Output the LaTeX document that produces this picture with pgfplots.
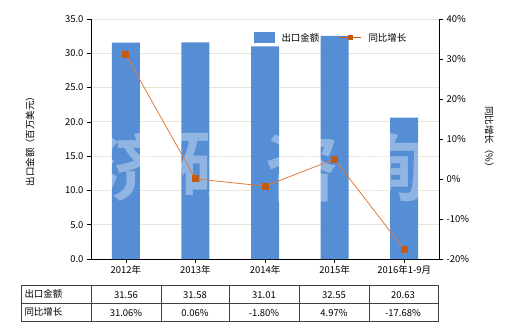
\documentclass[border=0pt]{standalone}
\usepackage{pgfplots}
\pgfplotsset{compat=1.18}
\usepackage{fontspec}
\setmainfont{Noto Sans CJK SC}
\newfontfamily\wmfont{Noto Sans CJK SC Bold}
\definecolor{barblue}{HTML}{558ED5}
\definecolor{lineor}{HTML}{E07B39}
\definecolor{markor}{HTML}{C55A11}
\definecolor{gridc}{HTML}{E6E6D8}
\definecolor{tabc}{HTML}{404040}
\begin{document}
\begin{tikzpicture}[x=1bp,y=1bp,font=\fontsize{9.5}{11}\selectfont]
\useasboundingbox (0,0) rectangle (520,330);
\begin{axis}[
  at={(91bp,71bp)}, anchor=south west,
  width=348bp, height=240bp, scale only axis,
  xmin=-0.5, xmax=4.5, ymin=0, ymax=35,
  xtick={0,1,2,3,4},
  xticklabels={2012年,2013年,2014年,2015年,2016年1-9月},
  ytick={0,5,...,35},
  yticklabel={\pgfmathprintnumber[fixed,fixed zerofill,precision=1]{\tick}},
  /pgf/number format/assume math mode=true,
  axis x line*=bottom, axis y line*=left,
  axis line style={black, line width=0.8pt},
  tick style={black, line width=0.6pt},
  tick align=outside, major tick length=4bp,
  ymajorgrids, grid style={gridc, line width=0.8pt},
  xticklabel style={yshift=1bp},
  ylabel={出口金额（百万美元）},
  ylabel style={at={(axis description cs:-0.175,0.5)}, anchor=center},
  clip=false,
]
\addplot[ybar, bar width=28bp, fill=barblue, draw=none] coordinates {(0,31.56) (1,31.58) (2,31.01) (3,32.55) (4,20.63)};
\end{axis}
% watermark
\foreach \c/\xx in {济/132,研/215,咨/302,询/390}{
  \node[text=white, opacity=0.35, font=\wmfont\fontsize{74}{74}\selectfont] at (\xx,163) {\c};
}
\begin{axis}[
  at={(91bp,71bp)}, anchor=south west,
  width=348bp, height=240bp, scale only axis,
  xmin=-0.5, xmax=4.5, ymin=-20, ymax=40,
  ytick={-20,-10,...,40},
  yticklabel={\pgfmathprintnumber{\tick}\%},
  /pgf/number format/assume math mode=true,
  axis y line*=right, axis x line=none,
  axis line style={black, line width=0.8pt},
  tick style={black, line width=0.6pt},
  tick align=outside, major tick length=4bp,
  ylabel={同比增长（\%）},
  ylabel style={at={(axis description cs:1.144,0.5)}, anchor=center, rotate=180},
  clip=false,
]
\addplot[color=lineor, line width=0.8pt, mark=square*, mark size=3bp, mark options={fill=markor, draw=markor}] coordinates {(0,31.06) (1,0.06) (2,-1.80) (3,4.97) (4,-17.68)};
\end{axis}
% legend
\fill[barblue] (254,287) rectangle (275,298);
\node[anchor=west] at (278,292.5) {出口金额};
\draw[markor, line width=1.2pt] (340,292.5) -- (361,292.5);
\fill[markor] (348,290) rectangle (353,295);
\node[anchor=west] at (365,292.5) {同比增长};
% table
\draw[tabc, line width=0.8pt] (21,9) rectangle (438,45);
\draw[tabc, line width=0.8pt] (21,27) -- (438,27);
\foreach \xx in {91,161,229,299,369}{\draw[tabc, line width=0.8pt] (\xx,9) -- (\xx,45);}
\node[anchor=west] at (21,36) {出口金额};
\node[anchor=west] at (21,18) {同比增长};
\foreach \v/\xx in {31.56/126,31.58/195,31.01/264,32.55/334,20.63/403}{\node at (\xx,35) {\v};}
\foreach \v/\xx in {31.06\%/126,0.06\%/195,-1.80\%/264,4.97\%/334,-17.68\%/403}{\node at (\xx,17) {\v};}
\end{tikzpicture}
\end{document}
